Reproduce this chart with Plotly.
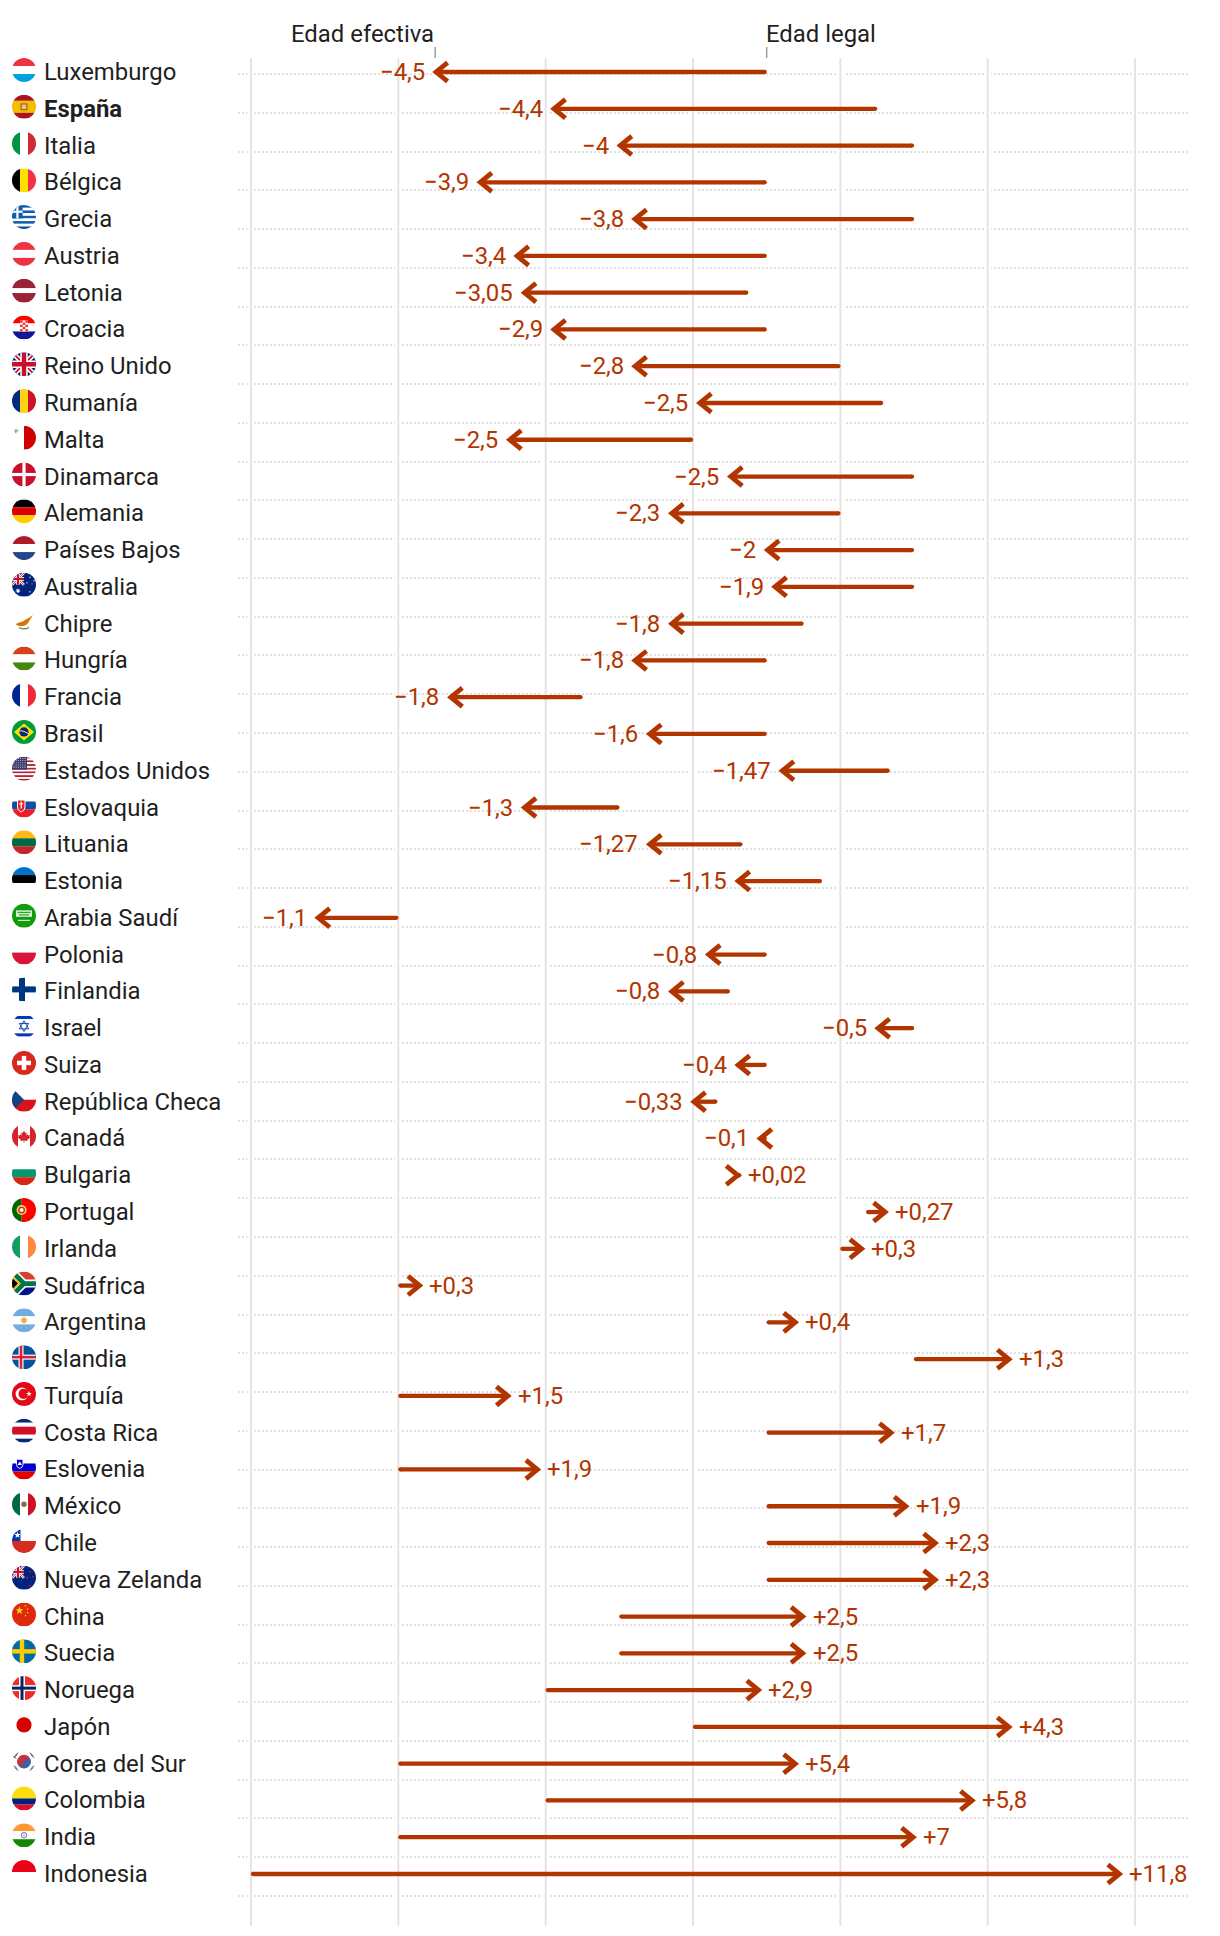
import base64, math
import plotly.graph_objects as go

countries = ["Luxemburgo","España","Italia","Bélgica","Grecia","Austria","Letonia","Croacia","Reino Unido","Rumanía",
             "Malta","Dinamarca","Alemania","Países Bajos","Australia","Chipre","Hungría","Francia","Brasil","Estados Unidos",
             "Eslovaquia","Lituania","Estonia","Arabia Saudí","Polonia","Finlandia","Israel","Suiza","República Checa","Canadá",
             "Bulgaria","Portugal","Irlanda","Sudáfrica","Argentina","Islandia","Turquía","Costa Rica","Eslovenia","México",
             "Chile","Nueva Zelanda","China","Suecia","Noruega","Japón","Corea del Sur","Colombia","India","Indonesia"]
legal_age = [65,66.5,67,65,67,65,64.75,65,66,66.58,
             64,67,66,67,67,65.5,65,62.5,65,66.67,
             63,64.67,65.75,60,65,64.5,67,65,64.33,65,
             64.6,66.35,66,60,65,67,60,65,60,65,
             65,65,63,63,62,64,60,62,60,58]
gap_years = [-4.5,-4.4,-4,-3.9,-3.8,-3.4,-3.05,-2.9,-2.8,-2.5,
             -2.5,-2.5,-2.3,-2,-1.9,-1.8,-1.8,-1.8,-1.6,-1.47,
             -1.3,-1.27,-1.15,-1.1,-0.8,-0.8,-0.5,-0.4,-0.33,-0.1,
             0.02,0.27,0.3,0.3,0.4,1.3,1.5,1.7,1.9,1.9,
             2.3,2.3,2.5,2.5,2.9,4.3,5.4,5.8,7,11.8]
grid_ages = [58,60,62,64,66,68,70]
header_left = "Edad efectiva"
header_right = "Edad legal"

# ---------- style / layout constants (pixels) ----------
W, H = 1220, 1936
L, R, T, B = 238, 1188, 58, 1926
PX_PER_YEAR = 73.67
ROW_TOP, ROW_STEP = 72, (1874 - 72) / 49
DOT_TOP, DOT_STEP, DOT_N = 74, (1896 - 74) / 47, 48
RED = "#b23500"
INK = "#1f1f1f"
GRID = "#e4e4e4"
FONT = "Roboto"
FS = 23.9

x_range = [58 - (251 - L) / PX_PER_YEAR, 58 + (R - 251) / PX_PER_YEAR]
y_range = [(B - ROW_TOP) / ROW_STEP, (T - ROW_TOP) / ROW_STEP]
rows = list(range(len(countries)))
effective = [a + g for a, g in zip(legal_age, gap_years)]

def fmt(v):
    s = f"{abs(v):g}".replace(".", ",")
    return ("+" if v > 0 else "\u2212") + s

# ---------- flags ----------
def hs(*cols):
    tot = sum(c[1] if isinstance(c, tuple) else 1 for c in cols)
    y, o = 0, ""
    for c in cols:
        col, w = c if isinstance(c, tuple) else (c, 1)
        h = 24 * w / tot
        o += f'<rect x="0" y="{y:.2f}" width="24" height="{h+0.05:.2f}" fill="{col}"/>'
        y += h
    return o

def vs(*cols):
    tot = sum(c[1] if isinstance(c, tuple) else 1 for c in cols)
    x, o = 0, ""
    for c in cols:
        col, w = c if isinstance(c, tuple) else (c, 1)
        d = 24 * w / tot
        o += f'<rect y="0" x="{x:.2f}" height="24" width="{d+0.05:.2f}" fill="{col}"/>'
        x += d
    return o

def star(cx, cy, r, fill="#fff", n=5, inner=0.4):
    pts = []
    for i in range(2 * n):
        a = -math.pi / 2 + i * math.pi / n
        rr = r if i % 2 == 0 else r * inner
        pts.append(f"{cx + rr * math.cos(a):.2f},{cy + rr * math.sin(a):.2f}")
    return f'<polygon points="{" ".join(pts)}" fill="{fill}"/>'

def rect(x, y, w, h, f):
    return f'<rect x="{x}" y="{y}" width="{w}" height="{h}" fill="{f}"/>'

def circ(x, y, r, f):
    return f'<circle cx="{x}" cy="{y}" r="{r}" fill="{f}"/>'

UJ = (rect(0, 0, 24, 24, "#012169")
      + '<path d="M0 0L24 24M24 0L0 24" stroke="#fff" stroke-width="5"/>'
      + '<path d="M0 0L24 24M24 0L0 24" stroke="#c8102e" stroke-width="1.8"/>'
      + '<path d="M12 0V24M0 12H24" stroke="#fff" stroke-width="7.5"/>'
      + '<path d="M12 0V24M0 12H24" stroke="#c8102e" stroke-width="4.4"/>')

def cross(bg, col, cx=12, w=4, inner=None, w2=2):
    o = rect(0, 0, 24, 24, bg) + rect(cx - w / 2, 0, w, 24, col) + rect(0, 12 - w / 2, 24, w, col)
    if inner:
        o += rect(cx - w2 / 2, 0, w2, 24, inner) + rect(0, 12 - w2 / 2, 24, w2, inner)
    return o

greece = hs(*(["#0d5eaf", "#fff"] * 4 + ["#0d5eaf"])) + rect(0, 0, 10.6, 13.3, "#0d5eaf") + rect(4.3, 0, 2.2, 13.3, "#fff") + rect(0, 5.5, 10.6, 2.2, "#fff")
usa = hs(*(["#b22234", "#fff"] * 6 + ["#b22234"])) + rect(0, 0, 15, 13, "#3c3b6e") + "".join(circ(2 + 2.2 * i, 1.6 + 2.2 * j, 0.55, "#c9cbe0") for i in range(6) for j in range(5))
south_africa = (rect(0, 0, 24, 12, "#e03c31") + rect(0, 12, 24, 12, "#001489")
                + '<path d="M0 0L12 12L0 24M12 12H24" stroke="#fff" stroke-width="8" fill="none"/>'
                + '<path d="M0 0L12 12L0 24M12 12H24" stroke="#007749" stroke-width="4.8" fill="none"/>'
                + '<path d="M0 3.5L8.5 12L0 20.5Z" fill="#ffb81c"/><path d="M0 6.2L5.8 12L0 17.8Z" fill="#000"/>')
maple = ('<path d="M12 6L13.3 8.6L14.8 7.9L14.3 11L15.9 9.8L16.3 11L18 10.7L17.4 12.7L18.2 13.2L15.2 15.3L15.5 16.5'
         'L12.3 16.1V18.6H11.7V16.1L8.5 16.5L8.8 15.3L5.8 13.2L6.6 12.7L6 10.7L7.7 11L8.1 9.8L9.7 11L9.2 7.9L10.7 8.6Z" fill="#d8232a"/>')
israel = rect(0, 0, 24, 24, "#fff") + rect(0, 1.8, 24, 3, "#0038b8") + rect(0, 19.2, 24, 3, "#0038b8") + \
    '<path d="M12 6.6L16.7 14.7H7.3ZM12 17.4L7.3 9.3H16.7Z" fill="none" stroke="#0038b8" stroke-width="0.9"/>'
saudi = rect(0, 0, 24, 24, "#129b0d") + rect(4, 6.5, 16, 6.5, "#d6efd4") + rect(5.5, 8, 13, 1, "#129b0d") + rect(7, 10.6, 10, 1, "#129b0d") + rect(6, 16, 12, 1, "#fff")
cyprus = ('<path d="M4 15C5 12 10 13 12 11C14 9 17 8.5 21 5.5L18 10C16 13 15 15.5 12 16C9 16.5 6 16.5 4 15Z" fill="#d57800"/>'
          '<path d="M7 17.8Q12 20.8 17 17.8" stroke="#6f7f5a" stroke-width="1.1" fill="none"/>')
korea = (rect(0, 0, 24, 24, "#fff")
         + '<path d="M5.2 12a6.8 6.8 0 0 1 13.6 0z" fill="#cd2e3a"/><path d="M5.2 12a6.8 6.8 0 0 0 13.6 0z" fill="#3f5fa3"/>'
         + circ(8.6, 12, 3.4, "#cd2e3a") + circ(15.4, 12, 3.4, "#3f5fa3")
         + '<path d="M3 6L6 3M2 8L5 5M4 9L1.5 6.5M21 6L18 3M22 8L19 5M3 18L6 21M2 16L5 19M21 18L18 21M22 16L19 19" stroke="#222" stroke-width="0.9"/>')
crescent = rect(0, 0, 24, 24, "#e30a17") + circ(10, 12, 6.4, "#fff") + circ(11.6, 12, 5.1, "#e30a17") + star(17, 12, 3, "#fff")
china = rect(0, 0, 24, 24, "#de2910") + star(7.5, 8, 4.2, "#ffde00") + star(13.5, 3.5, 1.3, "#ffde00") + star(15.5, 6.5, 1.3, "#ffde00") + star(15.5, 10, 1.3, "#ffde00") + star(13.5, 13, 1.3, "#ffde00")
aus = rect(0, 0, 24, 24, "#00247d") + f'<g transform="scale(.5)">{UJ}</g>' + star(6, 18, 3, "#fff", 7) + star(18, 4.5, 1.1) + star(22, 8, 1.1) + star(15, 10, 1.1) + star(18, 19, 1.1) + star(20, 11, .7)
nz = rect(0, 0, 24, 24, "#00247d") + f'<g transform="scale(.5)">{UJ}</g>' + star(18, 6, 1.5, "#cc142b") + star(21, 11, 1.5, "#cc142b") + star(15, 12, 1.5, "#cc142b") + star(18, 20, 1.5, "#cc142b")

flags = {
    "Luxemburgo": hs("#ef3340", "#fff", "#00a3e0"),
    "España": hs(("#aa151b", 1), ("#f1bf00", 2), ("#aa151b", 1)) + rect(8.5, 8.5, 7, 7, "#b5651d") + rect(9.8, 9.8, 4.4, 4.4, "#e8c38a"),
    "Italia": vs("#009246", "#fff", "#ce2b37"),
    "Bélgica": vs("#000", "#fde100", "#ef3340"),
    "Grecia": greece,
    "Austria": hs("#ef3340", "#fff", "#ef3340"),
    "Letonia": hs(("#9d2235", 2), ("#fff", 1), ("#9d2235", 2)),
    "Croacia": hs("#ff0000", "#fff", "#171796") + rect(8, 5, 8, 11, "#fff") + "".join(rect(8 + 2.67 * i, 5 + 2.2 * j, 2.67, 2.2, "#e33") for i in range(3) for j in range(5) if (i + j) % 2 == 0),
    "Reino Unido": UJ,
    "Rumanía": vs("#002b7f", "#fcd116", "#ce1126"),
    "Malta": vs("#fff", "#cf0000") + rect(3, 2.5, 1.6, 5, "#b3a68f") + rect(1.3, 4.2, 5, 1.6, "#b3a68f"),
    "Dinamarca": cross("#c8102e", "#fff", 12, 3.2),
    "Alemania": hs("#000", "#dd0000", "#ffce00"),
    "Países Bajos": hs("#ae1c28", "#fff", "#21468b"),
    "Australia": aus,
    "Chipre": cyprus,
    "Hungría": hs("#d7401c", "#fff", "#43890b"),
    "Francia": vs("#002395", "#fff", "#ed2939"),
    "Brasil": rect(0, 0, 24, 24, "#009b3a") + '<polygon points="12,3.5 22,12 12,20.5 2,12" fill="#fedf00"/>' + circ(12, 12, 4.6, "#002776") + '<path d="M7.8 10.8Q12 10.6 16.2 13.6" stroke="#fff" stroke-width="0.9" fill="none"/>',
    "Estados Unidos": usa,
    "Eslovaquia": hs("#fff", "#0b4ea2", "#ee1c25") + '<path d="M5.5 6.5H13V13.5Q13 17 9.2 18.5Q5.5 17 5.5 13.5Z" fill="#ee1c25" stroke="#fff" stroke-width="1"/>' + rect(8.6, 8, 1.2, 7, "#fff") + rect(7.2, 9.8, 4, 1.1, "#fff"),
    "Lituania": hs("#fdb913", "#006a44", "#c1272d"),
    "Estonia": hs("#0072ce", "#000", "#fff"),
    "Arabia Saudí": saudi,
    "Polonia": hs("#fff", "#dc143c"),
    "Finlandia": rect(0, 0, 24, 24, "#fff") + rect(7, 0, 6, 24, "#003580") + rect(0, 9, 24, 6, "#003580"),
    "Israel": israel,
    "Suiza": rect(0, 0, 24, 24, "#d52b1e") + rect(9.8, 5, 4.4, 14, "#fff") + rect(5, 9.8, 14, 4.4, "#fff"),
    "República Checa": hs("#fff", "#d7141a") + '<polygon points="0,0 12,12 0,24" fill="#11457e"/>',
    "Canadá": vs(("#d8232a", 1), ("#fff", 2), ("#d8232a", 1)) + maple,
    "Bulgaria": hs("#fff", "#00966e", "#d62612"),
    "Portugal": vs(("#006600", 2), ("#ff0000", 3)) + circ(9.6, 12, 5, "#f3d54a") + circ(9.6, 12, 3.4, "#d61f26") + circ(9.6, 12, 2, "#fff"),
    "Irlanda": vs("#169b62", "#fff", "#ff883e"),
    "Sudáfrica": south_africa,
    "Argentina": hs("#74acdf", "#fff", "#74acdf") + circ(12, 12, 2.8, "#f0b04a"),
    "Islandia": cross("#02529c", "#fff", 9, 5, "#dc1e35", 2.6),
    "Turquía": crescent,
    "Costa Rica": hs("#002b7f", "#fff", ("#ce1126", 2), "#fff", "#002b7f"),
    "Eslovenia": hs("#fff", "#0000cc", "#e10000") + '<path d="M4.5 3.8H11V9Q11 12 7.8 13Q4.5 12 4.5 9Z" fill="#0000cc" stroke="#fff" stroke-width=".9"/>' + '<path d="M5.5 9.5L7.8 6L10 9.5Z" fill="#fff"/>',
    "México": vs("#006847", "#fff", "#ce1126") + circ(12, 12, 2.7, "#8c6a3d"),
    "Chile": hs("#fff", "#d72b1f") + rect(0, 0, 8.5, 12, "#0039a6") + star(5.5, 6, 3.4, "#fff"),
    "Nueva Zelanda": nz,
    "China": china,
    "Suecia": cross("#006aa7", "#fecc00", 10, 4.4),
    "Noruega": cross("#ef2b2d", "#fff", 10, 6, "#002868", 3),
    "Japón": rect(0, 0, 24, 24, "#fff") + circ(12, 12, 7.6, "#d80000"),
    "Corea del Sur": korea,
    "Colombia": hs(("#fcdd09", 2), ("#00247d", 1), ("#d8102e", 1)),
    "India": hs("#ff9933", "#fff", "#138808") + '<circle cx="12" cy="12" r="2.7" fill="none" stroke="#6a6fb0" stroke-width="1"/>' + circ(12, 12, .8, "#6a6fb0"),
    "Indonesia": hs("#ec0016", "#fff"),
}

def flag_uri(inner):
    svg = ('<svg xmlns="http://www.w3.org/2000/svg" width="96" height="96" viewBox="0 0 24 24">'
           '<defs><clipPath id="c"><circle cx="12" cy="12" r="12"/></clipPath></defs>'
           f'<g clip-path="url(#c)">{inner}</g></svg>')
    return "data:image/svg+xml;base64," + base64.b64encode(svg.encode()).decode()

# ---------- figure ----------
fig = go.Figure()

# vertical guides with a white halo that interrupts the dotted rows
gx, gy = [], []
for g in grid_ages:
    gx += [g, g, None]
    gy += [y_range[0], y_range[1], None]
fig.add_trace(go.Scatter(x=gx, y=gy, mode="lines", line=dict(color="#ffffff", width=7), hoverinfo="skip", showlegend=False))
fig.add_trace(go.Scatter(x=gx, y=gy, mode="lines", line=dict(color=GRID, width=2), hoverinfo="skip", showlegend=False))

# arrow shafts, rounded starts, chevrons
CH_X, CH_Y = 11.5 / PX_PER_YEAR, 9.4 / ROW_STEP
TIP = 0.9 / PX_PER_YEAR
CAP = 2.0 / PX_PER_YEAR
sx, sy, cx, cy, mx = [], [], [], [], []
for r, a, e, g in zip(rows, legal_age, effective, gap_years):
    d = 1 if g > 0 else -1
    tip = e - d * TIP
    start = a + d * CAP
    sx += [start, tip, None]
    sy += [r, r, None]
    cx += [tip - d * CH_X, tip, tip - d * CH_X, None]
    cy += [r - CH_Y, r, r + CH_Y, None]
    mx.append(start)
fig.add_trace(go.Scatter(x=sx, y=sy, mode="lines", line=dict(color=RED, width=4.3), hoverinfo="skip", showlegend=False))
fig.add_trace(go.Scatter(x=cx, y=cy, mode="lines", line=dict(color=RED, width=4.8), hoverinfo="skip", showlegend=False))
fig.add_trace(go.Scatter(x=mx, y=rows, mode="markers", marker=dict(color=RED, size=4.3, line=dict(width=0)), hoverinfo="skip", showlegend=False))

annotations = []
for r, name, e, g in zip(rows, countries, effective, gap_years):
    annotations.append(dict(x=e, y=r, xref="x", yref="y", text=fmt(g), showarrow=False,
                            xanchor="left" if g > 0 else "right", yanchor="middle",
                            xshift=7 if g > 0 else -8.5,
                            font=dict(family=FONT, size=FS, color=RED)))
    label = f"<b>{name}</b>" if name == "España" else name
    annotations.append(dict(x=(42 - L) / (R - L), y=r, xref="paper", yref="y", text=label, showarrow=False,
                            xanchor="left", yanchor="middle",
                            font=dict(family=FONT, size=FS, color=INK)))

head_y = 1 - (34 - T) / (B - T)
annotations.append(dict(x=effective[0], y=head_y, xref="x", yref="paper", text=header_left, showarrow=False,
                        xanchor="right", yanchor="middle", xshift=1, font=dict(family=FONT, size=FS, color=INK)))
annotations.append(dict(x=legal_age[0], y=head_y, xref="x", yref="paper", text=header_right, showarrow=False,
                        xanchor="left", yanchor="middle", xshift=-3, font=dict(family=FONT, size=FS, color=INK)))

tick_top = 1 - (47 - T) / (B - T)
shapes = [dict(type="line", xref="x", yref="paper", x0=v, x1=v, y0=1, y1=tick_top, line=dict(color="#a0a0a0", width=1.5))
          for v in (effective[0], legal_age[0])]

images = [dict(source=flag_uri(flags[name]), xref="paper", yref="y",
               x=(12 - L) / (R - L), y=r - 2 / ROW_STEP, sizex=24 / (R - L), sizey=24 / ROW_STEP,
               xanchor="left", yanchor="middle", sizing="stretch", layer="above")
          for r, name in zip(rows, countries)]

dot_vals = [(DOT_TOP + DOT_STEP * i - ROW_TOP) / ROW_STEP for i in range(DOT_N)]

fig.update_layout(
    width=W, height=H, autosize=False,
    margin=dict(l=L, r=W - R, t=T, b=H - B, pad=0),
    paper_bgcolor="#ffffff", plot_bgcolor="#ffffff", showlegend=False,
    annotations=annotations, shapes=shapes, images=images,
    xaxis=dict(range=x_range, visible=False, fixedrange=True),
    yaxis=dict(range=y_range, tickmode="array", tickvals=dot_vals, showticklabels=False, ticks="",
               showgrid=True, gridcolor="#e0e0e0", gridwidth=2, griddash="2px,2px",
               zeroline=False, showline=False, fixedrange=True),
)

fig.write_html("out.html", config=dict(displayModeBar=False),
               post_script="document.body.style.margin='0';document.body.style.overflow='hidden';")
